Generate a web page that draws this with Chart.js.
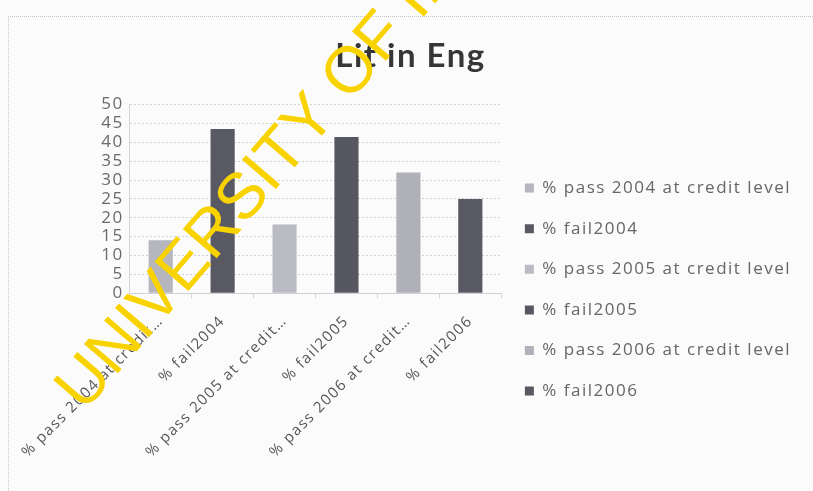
<!DOCTYPE html>
<html>
<head>
<meta charset="utf-8">
<script src="https://cdn.jsdelivr.net/npm/chart.js@4/dist/chart.umd.min.js"></script>
<style>
  html, body { margin: 0; padding: 0; background: #fbfbfb; }
  #wrap { position: relative; width: 813px; height: 491px; }
  #frame { position: absolute; left: 8px; top: 16px; right: 0; bottom: 0; border-top: 1px dotted #c4c4cc; border-left: 1px dotted #c4c4cc; }
  canvas { position: absolute; left: 0; top: 0; }
</style>
</head>
<body>
<div id="wrap">
  <div id="frame"></div>
  <canvas id="chart" width="813" height="491"></canvas>
</div>
<script>
const categories = [
  '% pass 2004 at credit level',
  '% fail2004',
  '% pass 2005 at credit level',
  '% fail2005',
  '% pass 2006 at credit level',
  '% fail2006'
]
const percentages = [14, 43.5, 18.2, 41.4, 32, 25]
const barColors = ['#b6b6be', '#595963', '#bbbbc4', '#575761', '#b0b0b9', '#595963']
const yMin = 0
const yMax = 50
const yStep = 5

const FONT = '"Open Sans", Lato, sans-serif'
const SPACING = '1.5px'

// wider letter spacing for all chart text (set before measuring and drawing)
const spacingPlugin = {
  id: 'spacing',
  beforeLayout (chart) { chart.ctx.letterSpacing = SPACING },
  beforeDraw (chart) { chart.ctx.letterSpacing = SPACING }
}

// yellow diagonal stamp over the finished chart
const stampPlugin = {
  id: 'stamp',
  afterDraw (chart) {
    const ctx = chart.ctx
    ctx.save()
    ctx.letterSpacing = '0px'
    ctx.translate(84, 413)
    ctx.rotate(-49.4 * Math.PI / 180)
    ctx.font = '65px "Liberation Sans", Arial, sans-serif'
    ctx.fillStyle = '#f8d300'
    ctx.textBaseline = 'alphabetic'
    ctx.fillText('UNIVERSITY OF IBADAN', 0, 0)
    ctx.restore()
  }
}

const shortLabel = (text) => text.length > 21 ? text.slice(0, 21) + '…' : text

new Chart(document.getElementById('chart').getContext('2d'), {
  type: 'bar',
  data: {
    labels: categories,
    datasets: [{
      data: percentages,
      backgroundColor: barColors,
      borderWidth: 0,
      categoryPercentage: 1,
      barPercentage: 0.39
    }]
  },
  options: {
    responsive: false,
    animation: false,
    layout: { padding: { top: 37, left: 20, right: 12, bottom: 16 } },
    scales: {
      x: {
        grid: { drawOnChartArea: false, drawTicks: true, tickLength: 5, color: '#d4d4dc', offset: true },
        border: { color: '#d0d0d8', dash: [2, 2] },
        ticks: {
          minRotation: 45,
          maxRotation: 45,
          color: '#555',
          font: { family: FONT, size: 15 },
          padding: 14,
          callback (value) { return shortLabel(this.getLabelForValue(value)) }
        }
      },
      y: {
        min: yMin,
        max: yMax,
        afterFit (scale) { scale.width = 107 },
        grid: { color: '#cfcfd8', drawTicks: false },
        border: { color: '#d4d4dc', dash: [2, 2] },
        ticks: {
          stepSize: yStep,
          autoSkip: false,
          color: '#6a6a6a',
          padding: 6,
          font: { family: FONT, size: 17 }
        }
      }
    },
    plugins: {
      title: {
        display: true,
        text: 'Lit in Eng',
        color: '#363636',
        font: { family: 'Lato, sans-serif', size: 33, weight: 'bold' },
        padding: { top: 0, bottom: 28 }
      },
      legend: {
        position: 'right',
        maxWidth: 340,
        onClick: () => {},
        title: { display: true, text: ' ', font: { size: 1 }, padding: { top: 66, bottom: 0 } },
        labels: {
          boxWidth: 9,
          boxHeight: 9,
          padding: 23.6,
          color: '#666',
          font: { family: FONT, size: 17 },
          generateLabels: () => categories.map((text, i) => ({
            text,
            fillStyle: barColors[i],
            strokeStyle: barColors[i],
            lineWidth: 0,
            hidden: false,
            index: i
          }))
        }
      },
      tooltip: { enabled: false }
    }
  },
  plugins: [spacingPlugin, stampPlugin]
})
</script>
</body>
</html>
